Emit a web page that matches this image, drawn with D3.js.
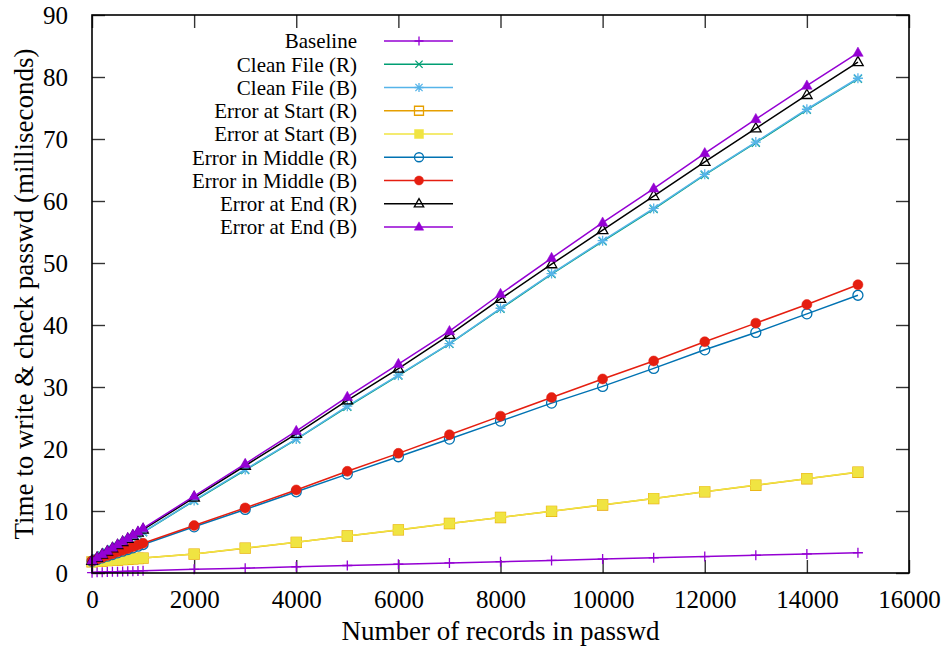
<!DOCTYPE html>
<html>
<head>
<meta charset="utf-8">
<script src="https://cdn.jsdelivr.net/npm/d3@7"></script>
</head>
<body style="margin: 0; background: #fff;">
<div id="chart-area"></div>
<script>
const canvas_width = 946;
const canvas_height = 648;
const margin = { left: 92, right: 37, top: 15, bottom: 75 };
const plot_width = canvas_width - margin.left - margin.right;
const plot_height = canvas_height - margin.top - margin.bottom;

const x_axis_label = 'Number of records in passwd';
const y_axis_label = 'Time to write & check passwd (milliseconds)';

// x positions (records) and tick labels
const records = [1, 100, 200, 300, 400, 500, 600, 700, 800, 900, 1000,
  2000, 3000, 4000, 5000, 6000, 7000, 8000, 9000, 10000, 11000, 12000, 13000, 14000, 15000];
const x_ticks = [0, 2000, 4000, 6000, 8000, 10000, 12000, 14000, 16000];
const y_ticks = [0, 10, 20, 30, 40, 50, 60, 70, 80, 90];

// series values in milliseconds
const baseline = [0.05, 0.12, 0.14, 0.17, 0.19, 0.21, 0.24, 0.27, 0.30, 0.33, 0.38,
  0.59, 0.78, 1.00, 1.21, 1.43, 1.62, 1.83, 2.03, 2.24, 2.44, 2.65, 2.86, 3.07, 3.27];
const clean_r = [1.88, 2.35, 2.82, 3.28, 3.75, 4.22, 4.70, 5.16, 5.62, 6.10, 6.57,
  11.65, 16.6, 21.55, 26.8, 31.85, 36.95, 42.6, 48.2, 53.5, 58.7, 64.2, 69.4, 74.7, 79.7];
const clean_b = [1.90, 2.37, 2.84, 3.31, 3.78, 4.25, 4.72, 5.19, 5.66, 6.13, 6.60,
  11.7, 16.7, 21.6, 26.9, 31.9, 37.0, 42.7, 48.3, 53.6, 58.8, 64.3, 69.5, 74.8, 79.8];
const start_r = [1.80, 1.86, 1.92, 1.98, 2.04, 2.10, 2.16, 2.22, 2.28, 2.34, 2.40,
  3.05, 4.00, 4.95, 5.97, 6.95, 7.98, 8.95, 9.95, 10.97, 12.0, 13.1, 14.15, 15.2, 16.25];
const start_b = [1.82, 1.88, 1.94, 2.00, 2.06, 2.12, 2.18, 2.24, 2.30, 2.36, 2.42,
  3.06, 4.02, 4.97, 5.98, 6.97, 8.00, 8.96, 9.97, 11.0, 12.02, 13.12, 14.18, 15.22, 16.28];
const middle_r = [1.90, 2.17, 2.44, 2.71, 2.98, 3.25, 3.52, 3.79, 4.06, 4.33, 4.60,
  7.45, 10.25, 13.1, 15.95, 18.75, 21.6, 24.5, 27.4, 30.1, 33.0, 36.0, 38.8, 41.8, 44.8];
const middle_b = [1.95, 2.24, 2.52, 2.81, 3.09, 3.38, 3.66, 3.95, 4.23, 4.52, 4.80,
  7.65, 10.5, 13.4, 16.4, 19.3, 22.3, 25.3, 28.3, 31.3, 34.2, 37.3, 40.3, 43.3, 46.5];
const end_r = [1.95, 2.46, 2.96, 3.47, 3.97, 4.48, 4.98, 5.49, 5.99, 6.50, 7.00,
  12.15, 17.3, 22.45, 27.85, 32.95, 38.4, 44.2, 49.8, 55.3, 60.8, 66.3, 71.7, 77.1, 82.4];
const end_b = [2.00, 2.52, 3.04, 3.56, 4.08, 4.60, 5.12, 5.64, 6.16, 6.68, 7.20,
  12.4, 17.6, 22.9, 28.4, 33.7, 39.0, 45.0, 50.8, 56.5, 62.0, 67.7, 73.2, 78.6, 83.9];

const series_names = ['Baseline', 'Clean File (R)', 'Clean File (B)', 'Error at Start (R)', 'Error at Start (B)',
  'Error in Middle (R)', 'Error in Middle (B)', 'Error at End (R)', 'Error at End (B)'];
const series_values = [baseline, clean_r, clean_b, start_r, start_b, middle_r, middle_b, end_r, end_b];

// gnuplot style per series
const series_colors = ['#9400d3', '#009e73', '#56b4e9', '#e69f00', '#f0e442', '#0072b2', '#e51e10', '#000000', '#9400d3'];
const series_marks = ['plus', 'cross', 'star', 'square', 'square_fill', 'circle', 'circle_fill', 'triangle', 'triangle_fill'];

function markPath(type, r) {
  const p = d3.path();
  const c = r * 0.8;
  if (type === 'plus' || type === 'star') {
    p.moveTo(-r, 0); p.lineTo(r, 0); p.moveTo(0, -r); p.lineTo(0, r);
  }
  if (type === 'cross' || type === 'star') {
    p.moveTo(-c, -c); p.lineTo(c, c); p.moveTo(-c, c); p.lineTo(c, -c);
  }
  if (type.startsWith('square')) p.rect(-r, -r, 2 * r, 2 * r);
  if (type.startsWith('circle')) { p.moveTo(r, 0); p.arc(0, 0, r, 0, 2 * Math.PI); }
  if (type.startsWith('triangle')) {
    p.moveTo(0, -r * 1.15); p.lineTo(r * 1.05, r * 0.7); p.lineTo(-r * 1.05, r * 0.7); p.closePath();
  }
  return p.toString();
}

function drawMark(sel, type, color, r) {
  const filled = type.endsWith('_fill');
  sel.append('path')
    .attr('d', markPath(type, r))
    .attr('fill', filled ? color : 'none')
    .attr('stroke', color)
    .attr('stroke-width', filled ? 0.5 : 1.3);
}

let canvas = d3.select('#chart-area').append('svg')
  .attr('width', canvas_width)
  .attr('height', canvas_height);
let group = canvas.append('g').attr('transform', `translate(${margin.left}, ${margin.top})`);

let x = d3.scaleLinear().domain([0, 16000]).range([0, plot_width]);
let y = d3.scaleLinear().domain([0, 90]).range([plot_height, 0]);

const tick_len = 13;
const tickFont = 25;
const legendFont = 21;
const titleFont = 27;
const font_family = 'Liberation Serif';

// ticks on all four sides, pointing inward
let bottomAxis = d3.axisBottom(x).tickValues(x_ticks).tickFormat(d3.format('d'))
  .tickSizeInner(-tick_len).tickSizeOuter(0).tickPadding(17);
let leftAxis = d3.axisLeft(y).tickValues(y_ticks).tickFormat(d3.format('d'))
  .tickSizeInner(-tick_len).tickSizeOuter(0).tickPadding(24);
let topAxis = d3.axisTop(x).tickValues(x_ticks).tickSizeInner(-tick_len).tickSizeOuter(0).tickFormat('');
let rightAxis = d3.axisRight(y).tickValues(y_ticks).tickSizeInner(-tick_len).tickSizeOuter(0).tickFormat('');

function styleAxis(g) {
  g.attr('font-family', font_family);
  g.select('.domain').remove();
  g.selectAll('line').attr('stroke', '#333').attr('stroke-width', 1.4);
  g.selectAll('text')
    .attr('font-family', font_family)
    .attr('font-size', tickFont)
    .attr('fill', '#000');
}

group.append('g').attr('transform', `translate(0, ${plot_height})`).call(bottomAxis).call(styleAxis);
group.append('g').call(leftAxis).call(styleAxis);
group.append('g').call(topAxis).call(styleAxis);
group.append('g').attr('transform', `translate(${plot_width}, 0)`).call(rightAxis).call(styleAxis);

// series lines and markers
let line = d3.line().x((d) => x(d[0])).y((d) => y(d[1]));
series_values.forEach((vals, i) => {
  const pts = records.map((r, j) => [r, vals[j]]);
  group.append('path')
    .datum(pts)
    .attr('d', line)
    .attr('fill', 'none')
    .attr('stroke', series_colors[i])
    .attr('stroke-width', 1.5);
  const marks = group.append('g');
  pts.forEach((d) => {
    const m = marks.append('g').attr('transform', `translate(${x(d[0])}, ${y(d[1])})`);
    drawMark(m, series_marks[i], series_colors[i], 5);
  });
});

// border
group.append('rect')
  .attr('width', plot_width)
  .attr('height', plot_height)
  .attr('fill', 'none')
  .attr('stroke', '#000')
  .attr('stroke-width', 1.6);

// legend
let legend = canvas.append('g');
series_names.forEach((name, i) => {
  const ly = 41 + i * 23.25;
  legend.append('text')
    .attr('x', 357)
    .attr('y', ly)
    .attr('dy', '0.35em')
    .attr('text-anchor', 'end')
    .attr('font-family', font_family)
    .attr('font-size', legendFont)
    .text(name);
  legend.append('line')
    .attr('x1', 384).attr('x2', 453)
    .attr('y1', ly).attr('y2', ly)
    .attr('stroke', series_colors[i])
    .attr('stroke-width', 1.5);
  const m = legend.append('g').attr('transform', `translate(419, ${ly})`);
  drawMark(m, series_marks[i], series_colors[i], 4.5);
});

// axis labels
canvas.append('text')
  .attr('x', margin.left + plot_width / 2)
  .attr('y', 640)
  .attr('text-anchor', 'middle')
  .attr('font-family', font_family)
  .attr('font-size', titleFont)
  .text(x_axis_label);

canvas.append('text')
  .attr('x', -(margin.top + plot_height / 2))
  .attr('y', 24)
  .attr('dy', '0.35em')
  .attr('text-anchor', 'middle')
  .attr('font-family', font_family)
  .attr('font-size', titleFont)
  .attr('transform', 'rotate(-90)')
  .text(y_axis_label);
</script>
</body>
</html>
